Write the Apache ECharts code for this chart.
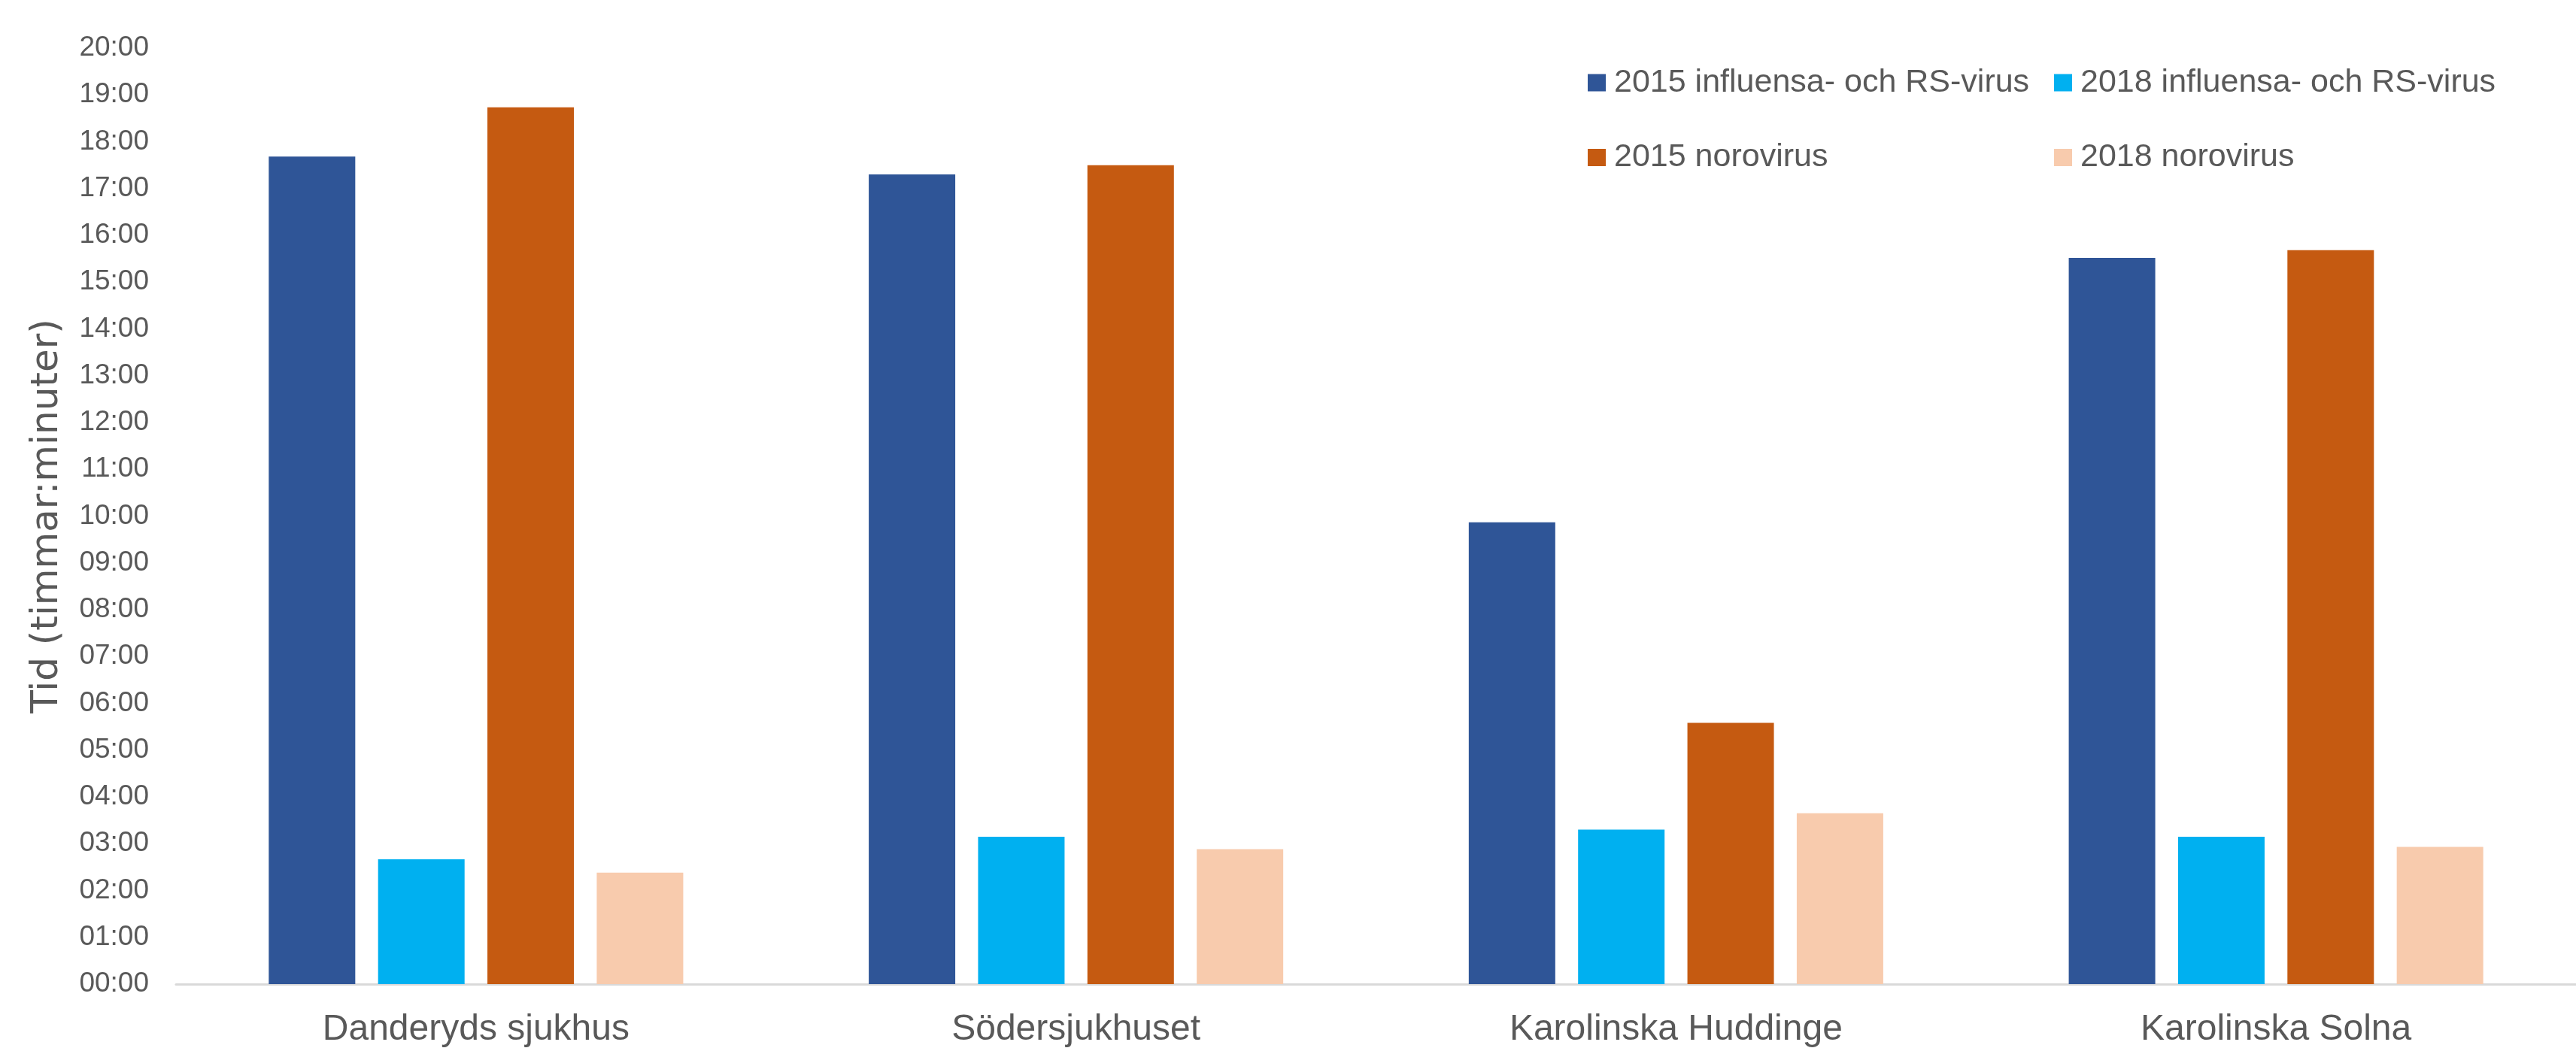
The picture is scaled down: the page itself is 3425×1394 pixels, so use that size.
<!DOCTYPE html>
<html>
<head>
<meta charset="utf-8">
<script src="https://cdn.jsdelivr.net/npm/echarts@6/dist/echarts.min.js"></script>
<style>
html,body{margin:0;padding:0;background:#fff;}
#chart{width:3425px;height:1394px;}
</style>
</head>
<body>
<div id="chart"></div>
<script>
// Categories (hospitals)
const categories = ['Danderyds sjukhus', 'Södersjukhuset', 'Karolinska Huddinge', 'Karolinska Solna'];
// Series names
const seriesNames = ['2015 influensa- och RS-virus', '2018 influensa- och RS-virus', '2015 norovirus', '2018 norovirus'];
// Values as hh:mm
const flu2015 = ['17:41', '17:18', '09:52', '15:31'];
const flu2018 = ['02:40', '03:09', '03:18', '03:09'];
const noro2015 = ['18:44', '17:30', '05:35', '15:41'];
const noro2018 = ['02:23', '02:53', '03:39', '02:56'];
// Y ticks (hours)
const yMin = 0, yMax = 20, yStep = 1;

const colors = ['#2F5597', '#00B0F0', '#C55A11', '#F8CBAD'];
const toHours = s => { const [h, m] = s.split(':').map(Number); return h + m / 60; };
const pad = n => String(n).padStart(2, '0');
const fmt = v => pad(Math.floor(v + 1e-9)) + ':' + pad(Math.round((v - Math.floor(v + 1e-9)) * 60));

const textColor = '#595959';
const seriesData = [flu2015, flu2018, noro2015, noro2018];

const chart = echarts.init(document.getElementById('chart'));
chart.setOption({
  animation: false,
  backgroundColor: '#ffffff',
  color: colors,
  grid: { left: 234, top: 64, bottom: 83, width: 3208, containLabel: false },
  legend: [
    {
      data: [seriesNames[0], seriesNames[2]],
      orient: 'vertical', left: 2106, top: 80,
      itemWidth: 24, itemHeight: 23, itemGap: 49.5,
      icon: 'rect',
      textStyle: { fontFamily: 'Liberation Sans', fontSize: 43, color: textColor, lineHeight: 50, padding: [0, 0, 0, 6] }
    },
    {
      data: [seriesNames[1], seriesNames[3]],
      orient: 'vertical', left: 2726, top: 80,
      itemWidth: 24, itemHeight: 23, itemGap: 49.5,
      icon: 'rect',
      textStyle: { fontFamily: 'Liberation Sans', fontSize: 43, color: textColor, lineHeight: 50, padding: [0, 0, 0, 6] }
    }
  ],
  xAxis: {
    type: 'category',
    data: categories,
    axisLine: { lineStyle: { color: '#D9D9D9', width: 3 } },
    axisTick: { show: false },
    axisLabel: { fontFamily: 'Liberation Sans', fontSize: 48, color: textColor, margin: 37 }
  },
  yAxis: {
    type: 'value',
    min: yMin, max: yMax, interval: yStep,
    name: 'Tid (timmar:minuter)',
    nameLocation: 'middle',
    nameRotate: 90,
    nameGap: 146,
    nameTextStyle: { fontFamily: 'DejaVu Sans', fontSize: 50, color: textColor },
    axisLine: { show: false },
    axisTick: { show: false },
    splitLine: { show: false },
    axisLabel: { fontFamily: 'Liberation Sans', fontSize: 37, color: textColor, margin: 36, formatter: v => fmt(v) }
  },
  series: seriesNames.map((name, i) => ({
    name: name,
    type: 'bar',
    barWidth: 115,
    barGap: '26.4%',
    itemStyle: { color: colors[i] },
    data: seriesData[i].map(toHours)
  }))
});
</script>
</body>
</html>
